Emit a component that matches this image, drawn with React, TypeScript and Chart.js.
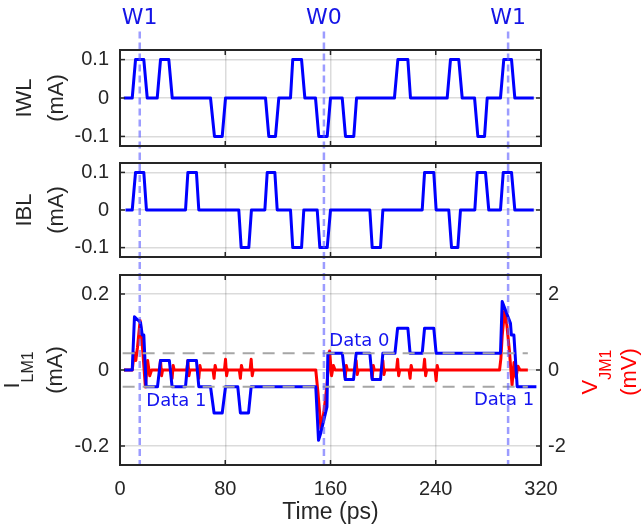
import React, { useEffect, useRef } from 'react';
import { Chart, registerables } from 'chart.js';

Chart.register(...registerables);

// ---------- data ----------
const timeTicks = [0, 80, 160, 240, 320];
const currentTicks = [-0.1, 0, 0.1];
const ilmTicks = [-0.2, 0, 0.2];
const vjmTicks = [-2, 0, 2];
const writeTimes = [15, 155, 295];
const writeLabels = ['W1', 'W0', 'W1'];
const thresholdLevels = [0.044, -0.044];
const thresholdSpan = [2, 310];
const dataLabelTexts = ['Data 1', 'Data 0', 'Data 1'];
const dataLabelTimes = [42.9, 182, 291.9];
const dataLabelLevels = [-0.082, 0.076, -0.079];

// IWL (mA) : [time ps, current]
const iwl: [number, number][] = [
  [2.9, 0], [9.3, 0], [11.8, 0.1], [18.1, 0.1], [20.7, 0],
  [28.3, 0], [30.8, 0.1], [37.1, 0.1], [39.7, 0],
  [68.8, 0], [71.8, -0.1], [77.7, -0.1], [80.2, 0],
  [110.6, 0], [113.1, -0.1], [118.2, -0.1], [120.7, 0],
  [129.6, 0], [131.3, 0.1], [138, 0.1], [140.5, 0],
  [148.6, 0], [151.1, -0.1], [157.5, -0.1], [160, 0],
  [168.9, 0], [171.4, -0.1], [177.7, -0.1], [179.8, 0],
  [208.6, 0], [211.2, 0.1], [218.8, 0.1], [220.8, 0],
  [248.7, 0], [251.2, 0.1], [257.5, 0.1], [260.1, 0],
  [269.5, 0], [272, -0.1], [277.1, -0.1], [279.1, 0],
  [289.2, 0], [291.7, 0.1], [297.6, 0.1], [300.1, 0],
  [314.5, 0],
];

// IBL (mA)
const ibl: [number, number][] = [
  [4.2, 0], [9.3, 0], [11.8, 0.1], [18.1, 0.1], [20.1, 0],
  [49.8, 0], [51.6, 0.1], [58.1, 0.1], [59.9, 0],
  [90.3, 0], [92.1, -0.1], [97.9, -0.1], [99.9, 0],
  [110.1, 0], [111.9, 0.1], [117.7, 0.1], [119.5, 0],
  [129.6, 0], [131.3, -0.1], [138, -0.1], [139.7, 0],
  [149.9, 0], [151.9, -0.1], [157.5, -0.1], [160, 0],
  [189.9, 0], [191.7, -0.1], [198, -0.1], [199.8, 0],
  [229.7, 0], [231.5, 0.1], [238.5, 0.1], [240.3, 0],
  [249.9, 0], [252, -0.1], [256.8, -0.1], [258.8, 0],
  [269.7, 0], [271.5, 0.1], [277.8, 0.1], [280.3, 0],
  [289.2, 0], [291.3, 0.1], [297.6, 0.1], [300.1, 0],
  [314.5, 0],
];

// I_LM1 (mA)
const ilm1: [number, number][] = [
  [3, 0], [9.3, 0], [11, 0.14], [15.6, 0.125], [16.9, 0.092], [18.1, 0.092], [19.9, -0.044],
  [28.5, -0.044], [30.8, 0.025], [37.5, 0.025], [39.6, -0.044],
  [49.8, -0.044], [51.6, 0.025], [58.1, 0.025], [59.9, -0.044],
  [68.8, -0.044], [71.5, -0.113], [77.7, -0.113], [80.2, -0.044],
  [89.5, -0.044], [91.5, -0.113], [97.7, -0.113], [99.7, -0.044],
  [148.8, -0.044], [150.9, -0.185], [152.4, -0.168], [157.3, -0.097], [158, 0.044],
  [169, 0.044], [171.2, -0.025], [177.5, -0.025], [179.5, 0.044],
  [189.9, 0.044], [191.7, -0.025], [198, -0.025], [199.8, 0.044],
  [209, 0.044], [211, 0.11], [218.8, 0.11], [220.5, 0.044],
  [229.7, 0.044], [231.5, 0.11], [238.5, 0.11], [240.3, 0.044],
  [289.2, 0.044], [290.5, 0.18], [296.8, 0.123], [297.5, 0.092], [299.4, 0.092], [301.9, -0.044],
  [316.5, -0.044],
];

// V_JM1 (mV)
const vjm1: [number, number][] = [
  [3, 0], [9.3, 0], [10.8, 0.45], [12, 0.25], [13.3, 0.6], [15.3, 1.3], [17.3, 0.5], [19.3, -0.45], [21, 0.25], [22.6, -0.15], [24, 0],
  [30, 0], [30.8, 0.25], [31.6, -0.15], [32.4, 0],
  [38.8, 0], [39.6, -0.22], [40.4, 0.12], [41.2, 0],
  [50.8, 0], [51.6, 0.25], [52.4, -0.15], [53.2, 0],
  [59.1, 0], [59.9, -0.22], [60.7, 0.12], [61.5, 0],
  [70.7, 0], [71.5, -0.22], [72.3, 0.12], [73.1, 0],
  [79.4, 0], [80.2, 0.28], [81, -0.15], [81.8, 0],
  [90.7, 0], [91.5, -0.22], [92.3, 0.12], [93.1, 0],
  [98.9, 0], [99.7, 0.28], [100.5, -0.15], [101.3, 0],
  [148.8, 0], [150.5, -0.6], [152.8, -1.55], [155, -1.1], [157.3, -0.4], [159.3, 0.5], [160.8, -0.15], [162.2, 0.12], [163.5, 0],
  [170.4, 0], [171.2, -0.2], [172, 0.12], [172.8, 0],
  [178.7, 0], [179.5, 0.25], [180.3, -0.12], [181.1, 0],
  [190.9, 0], [191.7, -0.22], [192.5, 0.12], [193.3, 0],
  [199, 0], [199.8, 0.25], [200.6, -0.12], [201.4, 0],
  [210.2, 0], [211, 0.28], [211.8, -0.15], [212.6, 0],
  [219.7, 0], [220.5, -0.22], [221.3, 0.12], [222.1, 0],
  [230.7, 0], [231.5, 0.28], [232.3, -0.15], [233.1, 0],
  [239.5, 0], [240.3, -0.28], [241.1, 0.12], [241.9, 0],
  [288.5, 0], [289.5, 0.3], [290.5, 0.9], [292.3, 1.55], [294, 1.2], [296, 0.5], [298, -0.4], [299.5, 0.2], [301, -0.2], [302.5, 0.1], [304, 0],
  [310, 0],
];

// ---------- styles ----------
const AX = "'Liberation Sans', Arial, sans-serif";
const DV = "'DejaVu Sans', Verdana, sans-serif";
const INK = '#262626';
const BLUE = '#0000ff';
const RED = '#ff0000';
const GRID = 'rgba(0,0,0,0.14)';
const WLINE = 'rgba(90,90,255,0.6)';

const W = 642;
const PANELS = [
  { top: 0, height: 153 },
  { top: 153, height: 109 },
  { top: 262, height: 267 },
];

function ds(points: [number, number][], color: string, yAxisID: string, extra: any = {}) {
  return {
    data: points.map(([x, y]) => ({ x, y })),
    borderColor: color,
    backgroundColor: color,
    borderWidth: 3,
    pointRadius: 0,
    tension: 0,
    fill: false,
    borderJoinStyle: 'round',
    yAxisID,
    ...extra,
  };
}

function setTicks(values: number[]) {
  return (s: any) => {
    s.ticks = values.map((v) => ({ value: v }));
  };
}

function fixSize(width: number | null, height: number | null) {
  return (s: any) => {
    if (width !== null) s.width = width;
    if (height !== null) s.height = height;
    s.paddingTop = 0;
    s.paddingBottom = 0;
    s.paddingLeft = 0;
    s.paddingRight = 0;
  };
}

function rotText(ctx: CanvasRenderingContext2D, text: string, x: number, y: number, font: string, color: string, align: CanvasTextAlign) {
  ctx.save();
  ctx.translate(x, y);
  ctx.rotate(-Math.PI / 2);
  ctx.font = font;
  ctx.fillStyle = color;
  ctx.textAlign = align;
  ctx.textBaseline = 'alphabetic';
  ctx.fillText(text, 0, 0);
  ctx.restore();
}

function seg(ctx: CanvasRenderingContext2D, x1: number, y1: number, x2: number, y2: number) {
  ctx.beginPath();
  ctx.moveTo(x1, y1);
  ctx.lineTo(x2, y2);
  ctx.stroke();
}

function overlay(leftTicks: number[], rightTicks: number[] | null, wTop: number, wToArea: boolean, extra: (chart: any) => void) {
  return {
    id: 'overlay',
    afterDraw(chart: any) {
      const { ctx, chartArea: a, scales } = chart;
      const xs = scales.x;
      ctx.save();
      // write-time dashed lines
      ctx.strokeStyle = WLINE;
      ctx.lineWidth = 2.5;
      ctx.setLineDash([7, 4]);
      const yEnd = wToArea ? a.bottom : chart.height;
      for (const t of writeTimes) {
        const x = xs.getPixelForValue(t);
        seg(ctx, x, wTop, x, yEnd);
      }
      ctx.setLineDash([]);
      // frame
      ctx.strokeStyle = INK;
      ctx.lineWidth = 2;
      ctx.strokeRect(a.left, a.top, a.right - a.left, a.bottom - a.top);
      ctx.lineWidth = 1.5;
      for (const t of timeTicks) {
        const x = xs.getPixelForValue(t);
        seg(ctx, x, a.top, x, a.top + 5);
        seg(ctx, x, a.bottom, x, a.bottom - 5);
      }
      for (const v of leftTicks) {
        const y = scales.y.getPixelForValue(v);
        seg(ctx, a.left, y, a.left + 5, y);
        if (!rightTicks) seg(ctx, a.right, y, a.right - 5, y);
      }
      if (rightTicks) {
        for (const v of rightTicks) {
          const y = scales.y2.getPixelForValue(v);
          seg(ctx, a.right, y, a.right - 5, y);
        }
      }
      extra(chart);
      ctx.restore();
    },
  };
}

function baseX(showTicks: boolean) {
  return {
    type: 'linear',
    min: 0,
    max: 320,
    afterBuildTicks: setTicks(timeTicks),
    afterFit: fixSize(null, showTicks ? 64 : 0),
    border: { display: false },
    grid: { color: GRID, lineWidth: 1.5, drawTicks: false },
    ticks: {
      display: showTicks,
      padding: 12,
      color: INK,
      font: { family: AX, size: 20 },
      callback: (v: any) => String(v),
    },
    title: {
      display: showTicks,
      text: 'Time (ps)',
      color: INK,
      font: { family: AX, size: 23 },
      padding: { top: 0, bottom: 3 },
    },
  };
}

function leftY(min: number, max: number, ticks: number[]) {
  return {
    type: 'linear',
    position: 'left',
    min,
    max,
    afterBuildTicks: setTicks(ticks),
    afterFit: fixSize(120, null),
    border: { display: false },
    grid: { color: GRID, lineWidth: 1.5, drawTicks: false },
    ticks: {
      padding: 11,
      color: INK,
      font: { family: AX, size: 20 },
      callback: (v: any) => String(v),
    },
  };
}

function commonOptions(padding: any, scales: any) {
  return {
    responsive: false,
    animation: false,
    devicePixelRatio: 1,
    layout: { padding, autoPadding: false },
    plugins: { legend: { display: false }, tooltip: { enabled: false } },
    scales,
  };
}

export default function App() {
  const r1 = useRef<HTMLCanvasElement>(null);
  const r2 = useRef<HTMLCanvasElement>(null);
  const r3 = useRef<HTMLCanvasElement>(null);

  useEffect(() => {
    const titleFont = `22px ${AX}`;
    const subFont = `16px ${AX}`;

    const c1 = new Chart(r1.current as any, {
      type: 'line',
      data: { datasets: [ds(iwl, BLUE, 'y')] as any },
      options: commonOptions({ top: 50, bottom: 7, left: 0, right: 101 }, {
        x: baseX(false),
        y: leftY(-0.125, 0.125, currentTicks),
      }) as any,
      plugins: [
        overlay(currentTicks, null, 31.5, false, (chart: any) => {
          const { ctx, chartArea: a, scales } = chart;
          ctx.font = `22px ${DV}`;
          ctx.fillStyle = '#1414e6';
          ctx.textAlign = 'center';
          ctx.textBaseline = 'middle';
          writeTimes.forEach((t, i) => ctx.fillText(writeLabels[i], scales.x.getPixelForValue(t), 18));
          const cy = (a.top + a.bottom) / 2;
          rotText(ctx, 'IWL', 31, cy, titleFont, INK, 'center');
          rotText(ctx, '(mA)', 63, cy, titleFont, INK, 'center');
        }),
      ],
    });

    const c2 = new Chart(r2.current as any, {
      type: 'line',
      data: { datasets: [ds(ibl, BLUE, 'y')] as any },
      options: commonOptions({ top: 10, bottom: 5, left: 0, right: 101 }, {
        x: baseX(false),
        y: leftY(-0.125, 0.125, currentTicks),
      }) as any,
      plugins: [
        overlay(currentTicks, null, 0, false, (chart: any) => {
          const { ctx, chartArea: a } = chart;
          const cy = (a.top + a.bottom) / 2;
          rotText(ctx, 'IBL', 31, cy, titleFont, INK, 'center');
          rotText(ctx, '(mA)', 63, cy, titleFont, INK, 'center');
        }),
      ],
    });

    const thresholdSets = thresholdLevels.map((lv) =>
      ds([[thresholdSpan[0], lv], [thresholdSpan[1], lv]], '#a6a6a6', 'y', { borderWidth: 2, borderDash: [12, 8] })
    );

    const c3 = new Chart(r3.current as any, {
      type: 'line',
      data: {
        datasets: [...thresholdSets, ds(ilm1, BLUE, 'y'), ds(vjm1, RED, 'y2')] as any,
      },
      options: commonOptions({ top: 13, bottom: 0, left: 0, right: 0 }, {
        x: baseX(true),
        y: leftY(-0.25, 0.25, ilmTicks),
        y2: {
          type: 'linear',
          position: 'right',
          min: -2.5,
          max: 2.5,
          afterBuildTicks: setTicks(vjmTicks),
          afterFit: fixSize(101, null),
          border: { display: false },
          grid: { display: false, drawTicks: false },
          ticks: {
            padding: 7,
            color: INK,
            font: { family: AX, size: 20 },
            callback: (v: any) => String(v),
          },
        },
      }) as any,
      plugins: [
        overlay(ilmTicks, vjmTicks, 0, true, (chart: any) => {
          const { ctx, chartArea: a, scales } = chart;
          // data annotations
          ctx.font = `18px ${DV}`;
          ctx.fillStyle = '#1414f0';
          ctx.textAlign = 'center';
          ctx.textBaseline = 'middle';
          dataLabelTexts.forEach((txt, i) => {
            ctx.fillText(txt, scales.x.getPixelForValue(dataLabelTimes[i]), scales.y.getPixelForValue(dataLabelLevels[i]));
          });
          const cy = (a.top + a.bottom) / 2;
          // left title I_LM1 (mA)
          ctx.font = titleFont;
          const wI = ctx.measureText('I').width;
          ctx.font = subFont;
          const wS = ctx.measureText('LM1').width;
          const s = cy + (wI + wS) / 2;
          rotText(ctx, 'I', 19, s, titleFont, INK, 'left');
          rotText(ctx, 'LM1', 33, s - wI, subFont, INK, 'left');
          rotText(ctx, '(mA)', 62, cy, titleFont, INK, 'center');
          // right title V_JM1 (mV)
          ctx.font = titleFont;
          const wV = ctx.measureText('V').width;
          ctx.font = subFont;
          const wJ = ctx.measureText('JM1').width;
          const cyr = cy + 2;
          const sr = cyr + (wV + wJ) / 2;
          rotText(ctx, 'V', 597, sr, titleFont, RED, 'left');
          rotText(ctx, 'JM1', 611, sr - wV, subFont, RED, 'left');
          rotText(ctx, '(mV)', 636, cyr, titleFont, RED, 'center');
        }),
      ],
    });

    return () => {
      c1.destroy();
      c2.destroy();
      c3.destroy();
    };
  }, []);

  const refs = [r1, r2, r3];
  return (
    <div style={{ position: 'absolute', left: 0, top: 0, width: W, height: 529, background: '#fff', overflow: 'hidden' }}>
      {PANELS.map((p, i) => (
        <canvas
          key={i}
          ref={refs[i]}
          width={W}
          height={p.height}
          style={{ position: 'absolute', left: 0, top: p.top, width: W, height: p.height }}
        />
      ))}
    </div>
  );
}
